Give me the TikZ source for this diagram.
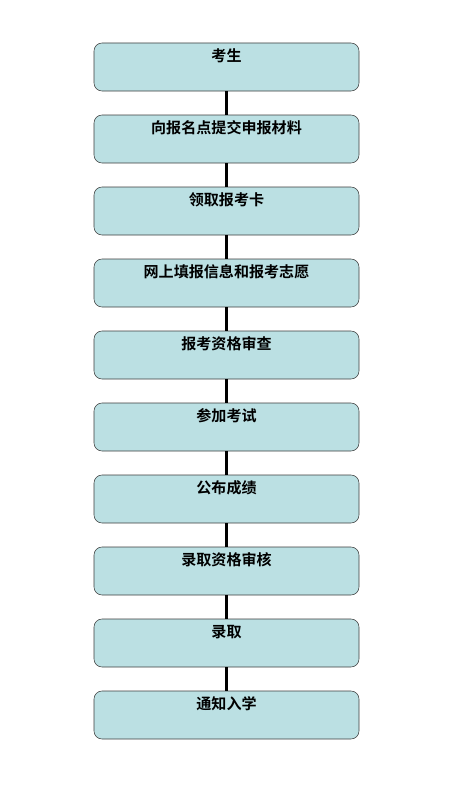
\documentclass[tikz,border=0pt]{standalone}
\usepackage{fontspec}
\newfontfamily\cjk[BoldFont={Noto Sans CJK SC Bold}]{Noto Sans CJK SC}
\usepackage{xcolor}
\usetikzlibrary{positioning}
\definecolor{stepfill}{RGB}{187,224,227}
\definecolor{stepline}{RGB}{60,60,60}

\begin{document}
\begin{tikzpicture}[
    x=0.75pt, y=-0.75pt,
    node distance=18pt,
    stepbox/.style={draw=stepline, fill=stepfill, rounded corners=6pt, minimum width=198.75pt,
        inner ysep=0pt, outer sep=0pt, text height=14pt, text depth=22pt,
        font=\cjk\bfseries\fontsize{11.3pt}{13pt}\selectfont},
    link/.style={draw, line width=2.2pt}
]
\useasboundingbox (0,0) rectangle (463,799);
\node[stepbox] (s1) at (226.5,67) {考生};
\node[stepbox, below=of s1] (s2) {向报名点提交申报材料};
\node[stepbox, below=of s2] (s3) {领取报考卡};
\node[stepbox, below=of s3] (s4) {网上填报信息和报考志愿};
\node[stepbox, below=of s4] (s5) {报考资格审查};
\node[stepbox, below=of s5] (s6) {参加考试};
\node[stepbox, below=of s6] (s7) {公布成绩};
\node[stepbox, below=of s7] (s8) {录取资格审核};
\node[stepbox, below=of s8] (s9) {录取};
\node[stepbox, below=of s9] (s10) {通知入学};
% links between steps
\foreach \a/\b in {s1/s2,s2/s3,s3/s4,s4/s5,s5/s6,s6/s7,s7/s8,s8/s9,s9/s10}
    \draw[link] (\a) -- (\b);
\end{tikzpicture}
\end{document}
